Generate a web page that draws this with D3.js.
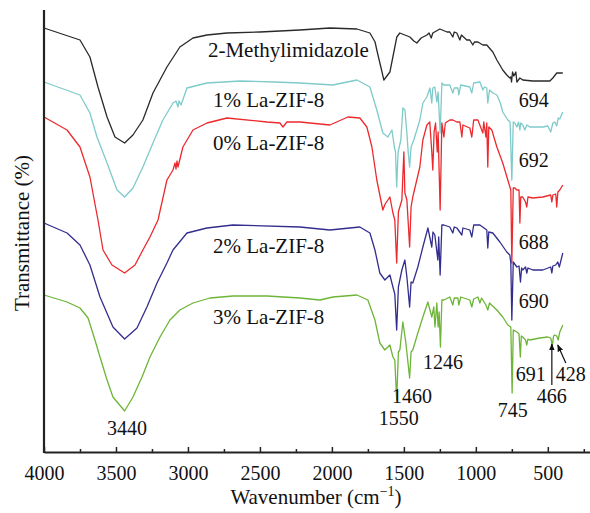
<!DOCTYPE html>
<html>
<head>
<meta charset="utf-8">
<script src="https://cdn.jsdelivr.net/npm/d3@7"></script>
<style>
    body { margin: 0; background: #fff; }
    svg text { font-family: "Liberation Serif", "DejaVu Serif", serif; fill: #111; }
    .axis path, .axis line { stroke: #222; }
</style>
</head>
<body>
<svg id="ftir-chart" width="590" height="513"></svg>
<script>
// [wavenumber (cm-1), transmittance (offset, a.u.)]
const methylimidazole = [
    [4000, 424], [3750, 412], [3681, 395], [3625, 365], [3562, 335], [3507, 315], [3440, 309],
    [3382, 317], [3313, 332], [3243, 359], [3146, 385], [3056, 405], [2965, 414], [2868, 417],
    [2729, 419], [2500, 420], [2222, 422], [2014, 424], [1826, 423], [1736, 419], [1700, 410],
    [1688, 402], [1660, 385], [1639, 372], [1618, 376], [1597, 380], [1549, 415], [1528, 419],
    [1493, 417], [1458, 415], [1431, 411], [1410, 409], [1380, 414], [1340, 417], [1325, 419],
    [1310, 414], [1299, 419], [1250, 423], [1200, 420], [1181, 420], [1160, 415], [1150, 420],
    [1132, 419], [1111, 412], [1100, 417], [1063, 412], [1042, 412], [1021, 407], [1010, 410],
    [986, 410], [951, 407], [924, 407], [882, 400], [854, 392], [813, 382], [785, 377],
    [764, 374], [757, 375], [752, 370], [745, 380], [736, 376], [722, 380], [715, 370],
    [694, 374], [674, 372], [604, 371], [535, 371], [486, 371], [465, 374], [438, 379],
    [417, 379], [396, 379]
]
const laZif1 = [
    [4000, 370], [3750, 357], [3681, 339], [3632, 315], [3562, 289], [3493, 262], [3440, 255],
    [3382, 264], [3313, 285], [3243, 309], [3174, 332], [3104, 349], [3083, 351], [3069, 345],
    [3062, 351], [3048, 347], [3007, 364], [2868, 369], [2639, 371], [2400, 370], [2222, 369],
    [1993, 367], [1826, 372], [1736, 365], [1688, 342], [1646, 319], [1611, 315], [1583, 322],
    [1566, 305], [1558, 300], [1550, 265], [1540, 300], [1521, 312], [1507, 344], [1493, 342],
    [1479, 319], [1470, 300], [1460, 285], [1450, 305], [1431, 312], [1389, 332], [1368, 349],
    [1340, 355], [1319, 364], [1306, 349], [1299, 364], [1285, 365], [1271, 350], [1262, 360],
    [1248, 319], [1236, 369], [1222, 367], [1181, 367], [1160, 359], [1150, 364], [1125, 364],
    [1118, 357], [1105, 367], [1042, 365], [1028, 359], [1015, 369], [972, 370], [951, 362],
    [940, 365], [924, 364], [917, 349], [905, 362], [882, 359], [854, 357], [830, 349],
    [813, 340], [778, 332], [762, 330], [750, 272], [740, 330], [729, 329], [715, 325],
    [703, 330], [694, 322], [688, 329], [674, 327], [660, 322], [646, 327], [625, 325],
    [580, 325], [535, 325], [500, 326], [480, 320], [465, 329], [451, 330], [438, 326],
    [428, 334], [417, 333], [396, 340]
]
const laZif0 = [
    [4000, 335], [3840, 322], [3750, 305], [3681, 275], [3625, 232], [3590, 202], [3528, 187],
    [3440, 179], [3368, 187], [3313, 202], [3264, 215], [3208, 232], [3146, 272], [3104, 282],
    [3090, 289], [3083, 283], [3076, 291], [3069, 285], [3035, 305], [2965, 322], [2868, 329],
    [2729, 334], [2451, 330], [2361, 329], [2340, 325], [2313, 330], [2222, 330], [2014, 327],
    [1889, 335], [1806, 334], [1757, 325], [1722, 305], [1688, 272], [1646, 242], [1630, 248],
    [1611, 252], [1597, 255], [1576, 239], [1563, 232], [1550, 189], [1538, 240], [1514, 252],
    [1500, 300], [1493, 259], [1479, 252], [1460, 205], [1450, 245], [1438, 255], [1389, 285],
    [1368, 312], [1340, 327], [1320, 330], [1306, 300], [1299, 282], [1290, 320], [1280, 329],
    [1268, 300], [1262, 320], [1248, 242], [1236, 329], [1222, 315], [1212, 329], [1181, 332],
    [1160, 332], [1132, 330], [1111, 330], [1097, 315], [1090, 327], [1042, 324], [1028, 315],
    [1015, 332], [986, 332], [951, 319], [945, 330], [930, 315], [924, 329], [917, 285],
    [910, 325], [889, 322], [854, 305], [813, 289], [778, 272], [757, 262], [750, 189],
    [740, 264], [729, 264], [715, 262], [700, 262], [694, 229], [688, 255], [674, 255],
    [655, 250], [646, 245], [638, 255], [604, 254], [535, 255], [480, 257], [472, 250],
    [465, 257], [445, 258], [438, 245], [430, 260], [417, 262], [396, 267]
]
const laZif2 = [
    [4000, 229], [3840, 219], [3750, 207], [3681, 187], [3611, 155], [3521, 125], [3440, 113],
    [3354, 124], [3285, 145], [3215, 169], [3146, 189], [3104, 202], [3007, 219], [2868, 224],
    [2688, 227], [2222, 225], [2014, 222], [1806, 225], [1736, 219], [1701, 202], [1667, 179],
    [1632, 172], [1597, 177], [1576, 165], [1563, 158], [1550, 122], [1538, 165], [1514, 182],
    [1493, 192], [1479, 175], [1460, 145], [1450, 170], [1438, 169], [1403, 185], [1368, 205],
    [1333, 224], [1306, 205], [1298, 220], [1285, 217], [1264, 192], [1258, 215], [1248, 177],
    [1236, 227], [1222, 227], [1181, 225], [1160, 219], [1150, 225], [1132, 224], [1097, 217],
    [1090, 224], [1042, 222], [1028, 215], [1015, 227], [986, 227], [972, 227], [924, 222],
    [917, 204], [910, 220], [882, 219], [833, 210], [785, 200], [764, 197], [757, 189],
    [750, 132], [740, 190], [715, 185], [700, 186], [690, 170], [682, 184], [674, 182],
    [655, 185], [646, 179], [638, 184], [604, 182], [535, 182], [480, 185], [472, 179],
    [465, 186], [445, 187], [431, 190], [420, 185], [396, 199]
]
const laZif3 = [
    [4000, 157], [3840, 150], [3750, 144], [3694, 134], [3646, 112], [3611, 95], [3562, 72],
    [3521, 55], [3440, 41], [3382, 55], [3319, 75], [3264, 95], [3194, 115], [3125, 132],
    [3056, 142], [2965, 149], [2847, 154], [2688, 156], [2451, 156], [2222, 154], [2083, 152],
    [1993, 155], [1826, 157], [1750, 152], [1701, 132], [1667, 109], [1632, 102], [1597, 107],
    [1576, 95], [1563, 92], [1550, 52], [1538, 100], [1528, 102], [1507, 130], [1486, 109],
    [1460, 74], [1450, 100], [1438, 102], [1403, 119], [1368, 135], [1333, 150], [1306, 135],
    [1292, 145], [1284, 125], [1271, 149], [1262, 125], [1255, 140], [1246, 105], [1236, 152],
    [1222, 152], [1181, 155], [1160, 147], [1150, 154], [1125, 154], [1118, 147], [1105, 155],
    [1042, 152], [1028, 145], [1015, 153], [986, 155], [972, 149], [960, 154], [930, 147],
    [917, 142], [905, 149], [854, 142], [813, 135], [778, 127], [757, 125], [748, 59],
    [740, 122], [715, 120], [700, 118], [691, 95], [684, 116], [674, 115], [655, 112],
    [646, 107], [638, 113], [625, 112], [556, 114], [500, 115], [480, 114], [468, 107],
    [460, 116], [451, 117], [438, 116], [428, 112], [417, 120], [396, 127]
]

const seriesNames = ['2-Methylimidazole', '1% La-ZIF-8', '0% La-ZIF-8', '2% La-ZIF-8', '3% La-ZIF-8']
const seriesData = [methylimidazole, laZif1, laZif0, laZif2, laZif3]
const seriesColors = ['#2a2a2a', '#7fcaca', '#ec2a2e', '#332d8e', '#6db536']
// label anchor: [wavenumber, transmittance]
const seriesLabelAt = [[2861, 402], [2826, 352], [2826, 309], [2826, 206], [2826, 135]]

// peak annotations: [text, wavenumber, transmittance]
const peakLabels = [
    ['694', 597, 352], ['692', 597, 292], ['688', 597, 210], ['690', 597, 151],
    ['3440', 3424, 24], ['1550', 1535, 34], ['1460', 1444, 56], ['1246', 1229, 90],
    ['745', 743, 42], ['691', 618, 78], ['466', 472, 56], ['428', 340, 78]
]
// arrows: [from wn, from T, to wn, to T]
const peakArrows = [[472, 67, 472, 108], [375, 89, 431, 107]]

const majorTicks = [4000, 3500, 3000, 2500, 2000, 1500, 1000, 500]
const minorTicks = [3750, 3250, 2750, 2250, 1750, 1250, 750, 250]

const svg = d3.select('#ftir-chart')
const DIM = { left: 44, right: 591, top: 10, bottom: 452 }

const x = d3.scaleLinear().domain([4000, 200]).range([DIM.left, DIM.right])
const y = d3.scaleLinear().domain([0, 442]).range([DIM.bottom, DIM.top])

// arrow marker
svg.append('defs').append('marker')
    .attr('id', 'arrowhead')
    .attr('viewBox', '0 0 10 10')
    .attr('refX', 9).attr('refY', 5)
    .attr('markerWidth', 6).attr('markerHeight', 6)
    .attr('orient', 'auto')
    .append('path')
    .attr('d', 'M0,1 L10,5 L0,9 Z')
    .attr('fill', '#111')

// spectra
const line = d3.line().x(d => x(d[0])).y(d => y(d[1]))
svg.selectAll('.spectrum')
    .data(seriesData)
    .join('path')
    .attr('class', 'spectrum')
    .attr('d', line)
    .attr('fill', 'none')
    .attr('stroke', (d, i) => seriesColors[i])
    .attr('stroke-width', 1.3)
    .attr('stroke-linejoin', 'round')

// x axis, ticks pointing inward
const xAxis = svg.append('g')
    .attr('class', 'axis')
    .attr('transform', `translate(0, ${DIM.bottom})`)
    .call(d3.axisBottom(x).tickValues(majorTicks).tickFormat(d3.format('d'))
        .tickSizeInner(-5).tickSizeOuter(0).tickPadding(14))
xAxis.select('.domain').attr('stroke-width', 2.2)
xAxis.selectAll('.tick line').attr('stroke-width', 1.5)
xAxis.selectAll('text').attr('font-size', 20)
svg.append('g')
    .attr('class', 'axis')
    .attr('transform', `translate(0, ${DIM.bottom})`)
    .call(d3.axisBottom(x).tickValues(minorTicks).tickSizeInner(-3).tickSizeOuter(0).tickFormat(''))
    .call(g => g.select('.domain').remove())
    .selectAll('.tick line').attr('stroke-width', 1.5)

// y axis: plain line, no ticks
svg.append('line')
    .attr('x1', DIM.left).attr('x2', DIM.left)
    .attr('y1', DIM.top).attr('y2', DIM.bottom + 1)
    .attr('stroke', '#222')
    .attr('stroke-width', 2.2)

// axis labels
const xTitle = svg.append('text')
    .attr('x', 316)
    .attr('y', 504)
    .attr('text-anchor', 'middle')
    .attr('font-size', 21)
xTitle.append('tspan').text('Wavenumber (cm')
xTitle.append('tspan').attr('font-size', 14).attr('dy', -8).text('\u22121')
xTitle.append('tspan').attr('dy', 8).text(')')

svg.append('text')
    .attr('transform', `translate(29, 233) rotate(-90)`)
    .attr('text-anchor', 'middle')
    .attr('font-size', 21)
    .text('Transmittance (%)')

// series labels
svg.selectAll('.series-label')
    .data(seriesNames)
    .join('text')
    .attr('class', 'series-label')
    .attr('x', (d, i) => x(seriesLabelAt[i][0]))
    .attr('y', (d, i) => y(seriesLabelAt[i][1]))
    .attr('dy', '0.35em')
    .attr('font-size', 21)
    .text(d => d)

// peak labels
svg.selectAll('.peak-label')
    .data(peakLabels)
    .join('text')
    .attr('class', 'peak-label')
    .attr('x', d => x(d[1]))
    .attr('y', d => y(d[2]))
    .attr('dy', '0.35em')
    .attr('text-anchor', 'middle')
    .attr('font-size', 20)
    .text(d => d[0])

svg.selectAll('.peak-arrow')
    .data(peakArrows)
    .join('line')
    .attr('class', 'peak-arrow')
    .attr('x1', d => x(d[0])).attr('y1', d => y(d[1]))
    .attr('x2', d => x(d[2])).attr('y2', d => y(d[3]))
    .attr('stroke', '#111')
    .attr('stroke-width', 1.2)
    .attr('marker-end', 'url(#arrowhead)')
</script>
</body>
</html>
